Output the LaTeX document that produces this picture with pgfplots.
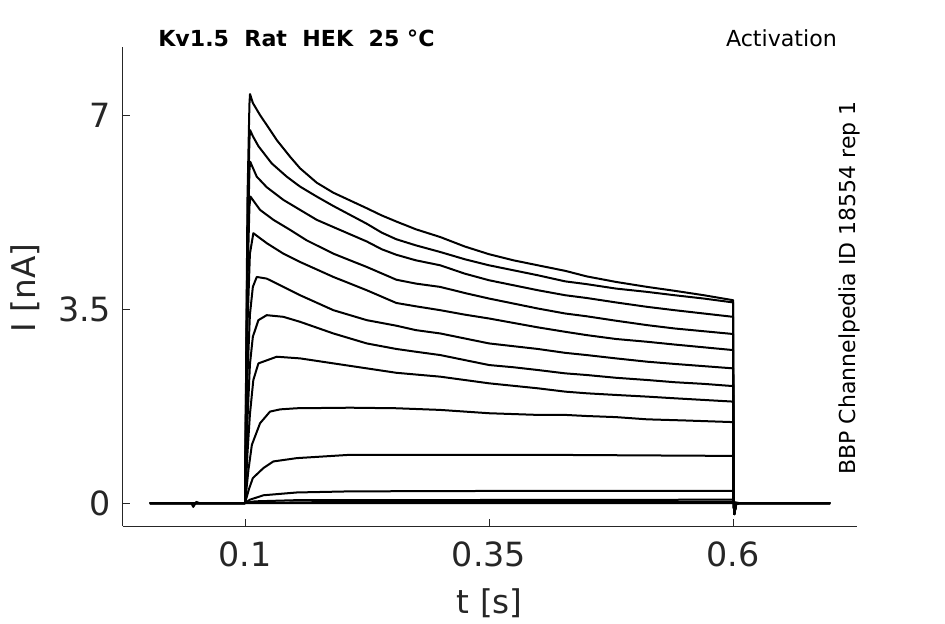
\documentclass[border=0pt]{standalone}
\usepackage{pgfplots}
\pgfplotsset{compat=1.18}
\usepackage{fontspec}
\setmainfont{DejaVu Sans}
\definecolor{txt}{RGB}{38,38,38}
\begin{document}
\begin{tikzpicture}
\path[use as bounding box] (0,0) rectangle (708.75pt,468pt);
\begin{axis}[
  at={(91.9pt,73.5pt)}, anchor=south west,
  scale only axis, width=550.9pt, height=359.25pt,
  xmin=-0.0255, xmax=0.727, ymin=-0.415, ymax=8.23,
  clip mode=individual,
  axis lines=left, axis line style={-, txt, line width=0.6pt},
  xtick={0.1,0.35,0.6}, ytick={0,3.5,7},
  xticklabels={0.1,0.35,0.6}, yticklabels={0,3.5,7},
  tick style={txt, line width=0.6pt}, major tick length=5.25pt, tick align=inside,
  ticklabel style={font=\fontsize{25}{29}\selectfont, text=txt},
  xticklabel style={yshift=-8pt},
  yticklabel style={xshift=-5pt},
  xlabel={t [s]}, ylabel={I [nA]},
  label style={font=\fontsize{24.5}{28}\selectfont, text=txt},
  xlabel style={at={(axis description cs:0.5,-0.182)}, anchor=base},
  ylabel style={at={(axis description cs:-0.118,0.497)}, anchor=base, rotate=0},
  tr/.style={black, line width=1.5pt, line join=round},
]
% trace 1
\addplot[tr] coordinates {(0.0025,0) (0.1,0) (0.1025,5.5) (0.1045,7.2) (0.1051,7.38) (0.108,7.22) (0.1154,7.0) (0.125,6.75) (0.1325,6.55) (0.1461,6.25) (0.1564,6.04) (0.1735,5.78) (0.1905,5.60) (0.2076,5.46) (0.2247,5.32) (0.24,5.19) (0.255,5.08) (0.275,4.94) (0.3,4.80) (0.325,4.63) (0.35,4.49) (0.375,4.38) (0.4,4.29) (0.428,4.19) (0.45,4.09) (0.48,3.99) (0.512,3.90) (0.54,3.83) (0.57,3.75) (0.6,3.66) (0.6004,0.1) (0.6012,-0.2) (0.603,-0.02) (0.606,0) (0.6995,0)};
% trace 2
\addplot[tr] coordinates {(0.0025,0) (0.1,0) (0.1025,5.0) (0.1045,6.55) (0.1052,6.73) (0.108,6.62) (0.1137,6.44) (0.1273,6.13) (0.1427,5.89) (0.1564,5.71) (0.1735,5.53) (0.1905,5.36) (0.2076,5.20) (0.2247,5.04) (0.24,4.88) (0.255,4.76) (0.275,4.65) (0.3,4.53) (0.325,4.40) (0.35,4.29) (0.375,4.20) (0.4,4.11) (0.428,4.00) (0.45,3.95) (0.48,3.87) (0.512,3.81) (0.54,3.75) (0.57,3.69) (0.6,3.62) (0.6004,0.1) (0.6012,-0.2) (0.603,-0.02) (0.606,0) (0.6995,0)};
% trace 3
\addplot[tr] coordinates {(0.0025,0) (0.1,0) (0.1025,4.5) (0.1045,6.0) (0.1053,6.16) (0.108,6.05) (0.112,5.89) (0.1222,5.70) (0.1393,5.47) (0.1564,5.29) (0.1735,5.11) (0.1905,4.98) (0.2076,4.85) (0.2247,4.72) (0.24,4.58) (0.255,4.48) (0.275,4.38) (0.3,4.29) (0.325,4.14) (0.35,4.02) (0.375,3.93) (0.4,3.84) (0.428,3.75) (0.45,3.70) (0.48,3.62) (0.512,3.54) (0.54,3.48) (0.57,3.42) (0.6,3.36) (0.6004,0.1) (0.6012,-0.2) (0.603,-0.02) (0.606,0) (0.6995,0)};
% trace 4
\addplot[tr] coordinates {(0.0025,0) (0.1,0) (0.1025,4.0) (0.1045,5.35) (0.1056,5.53) (0.11,5.42) (0.1154,5.29) (0.1291,5.11) (0.1461,4.93) (0.1632,4.74) (0.1905,4.50) (0.2247,4.26) (0.255,4.03) (0.275,3.96) (0.3,3.90) (0.325,3.79) (0.35,3.69) (0.375,3.60) (0.4,3.51) (0.428,3.42) (0.45,3.37) (0.48,3.29) (0.512,3.21) (0.54,3.15) (0.57,3.10) (0.6,3.05) (0.6004,0.1) (0.6012,-0.2) (0.603,-0.02) (0.606,0) (0.6995,0)};
% trace 5
\addplot[tr] coordinates {(0.0025,0) (0.1,0) (0.1025,3.2) (0.105,4.5) (0.1085,4.87) (0.1222,4.69) (0.1393,4.50) (0.1564,4.35) (0.1905,4.08) (0.2247,3.84) (0.255,3.61) (0.275,3.55) (0.3,3.48) (0.325,3.40) (0.35,3.33) (0.375,3.25) (0.4,3.17) (0.428,3.09) (0.45,3.03) (0.48,2.96) (0.512,2.91) (0.54,2.86) (0.57,2.81) (0.6,2.76) (0.6004,0.1) (0.6012,-0.2) (0.603,-0.02) (0.606,0) (0.6995,0)};
% trace 6
\addplot[tr] coordinates {(0.0025,0) (0.1,0) (0.1025,2.3) (0.105,3.4) (0.108,3.9) (0.112,4.08) (0.1222,4.05) (0.1393,3.90) (0.1564,3.75) (0.1905,3.48) (0.2247,3.30) (0.255,3.20) (0.275,3.12) (0.3,3.06) (0.325,2.97) (0.35,2.88) (0.375,2.83) (0.4,2.78) (0.428,2.71) (0.45,2.67) (0.48,2.61) (0.512,2.55) (0.54,2.51) (0.57,2.47) (0.6,2.43) (0.6004,0.1) (0.6012,-0.2) (0.603,-0.02) (0.606,0) (0.6995,0)};
% trace 7
\addplot[tr] coordinates {(0.0025,0) (0.1,0) (0.1025,1.5) (0.105,2.5) (0.108,3.0) (0.1137,3.3) (0.1222,3.39) (0.1393,3.36) (0.1564,3.27) (0.1905,3.06) (0.2247,2.88) (0.255,2.78) (0.275,2.73) (0.3,2.67) (0.325,2.58) (0.35,2.49) (0.375,2.45) (0.4,2.40) (0.428,2.34) (0.45,2.31) (0.48,2.26) (0.512,2.22) (0.54,2.18) (0.57,2.15) (0.6,2.11) (0.6004,0.1) (0.6012,-0.2) (0.603,-0.02) (0.606,0) (0.6995,0)};
% trace 8
\addplot[tr] coordinates {(0.0025,0) (0.1,0) (0.1025,0.9) (0.105,1.6) (0.1085,2.22) (0.1137,2.52) (0.1325,2.64) (0.1564,2.61) (0.1905,2.52) (0.2247,2.43) (0.255,2.35) (0.3,2.28) (0.325,2.22) (0.35,2.16) (0.4,2.07) (0.428,2.01) (0.45,1.98) (0.48,1.95) (0.512,1.92) (0.54,1.89) (0.57,1.86) (0.6,1.83) (0.6004,0.1) (0.6012,-0.2) (0.603,-0.02) (0.606,0) (0.6995,0)};
% trace 9
\addplot[tr] coordinates {(0.0025,0) (0.1,0) (0.1035,0.6) (0.107,1.05) (0.1154,1.44) (0.1256,1.65) (0.136,1.69) (0.153,1.71) (0.2076,1.72) (0.255,1.71) (0.3,1.68) (0.35,1.62) (0.4,1.59) (0.428,1.59) (0.45,1.57) (0.48,1.55) (0.512,1.51) (0.55,1.49) (0.6,1.46) (0.6004,0.1) (0.6012,-0.2) (0.603,-0.02) (0.606,0) (0.6995,0)};
% trace 10
\addplot[tr] coordinates {(0.0025,0) (0.1,0) (0.104,0.25) (0.108,0.45) (0.1188,0.63) (0.129,0.75) (0.153,0.81) (0.2076,0.87) (0.3,0.87) (0.4,0.87) (0.5,0.86) (0.6,0.85) (0.6004,0.05) (0.6012,-0.15) (0.603,-0.02) (0.606,0) (0.6995,0)};
% trace 11
\addplot[tr] coordinates {(0.0025,0) (0.1,0) (0.105,0.06) (0.119,0.14) (0.153,0.19) (0.2076,0.21) (0.4,0.22) (0.6,0.22) (0.6012,-0.1) (0.603,-0.02) (0.606,0) (0.6995,0)};
% trace 12
\addplot[tr] coordinates {(0.0025,0) (0.1,0) (0.11,0.03) (0.15,0.05) (0.6,0.06) (0.6012,-0.05) (0.606,0) (0.6995,0)};
% trace 13
\addplot[tr] coordinates {(0.0025,0) (0.1,0) (0.2,0.02) (0.6,0.02) (0.606,0) (0.6995,0)};
% trace 14
\addplot[tr] coordinates {(0.0025,0) (0.045,0) (0.047,-0.07) (0.05,0.02) (0.053,0) (0.6995,0)};
\node[anchor=base west, inner sep=0pt, font=\bfseries\fontsize{16.6}{19}\selectfont, text=black] at (axis description cs:0.0483,1.0006) {Kv1.5\ \ Rat\ \ HEK\ \ 25 °C};
\node[anchor=base east, inner sep=0pt, font=\fontsize{16.6}{19}\selectfont, text=black] at (axis description cs:0.9728,1.002) {Activation};
\node[anchor=base, rotate=90, inner sep=0pt, font=\fontsize{16.5}{19}\selectfont, text=black] at (axis description cs:0.9973,0.4969) {BBP Channelpedia ID 18554 rep 1};
\end{axis}
\end{tikzpicture}
\end{document}
